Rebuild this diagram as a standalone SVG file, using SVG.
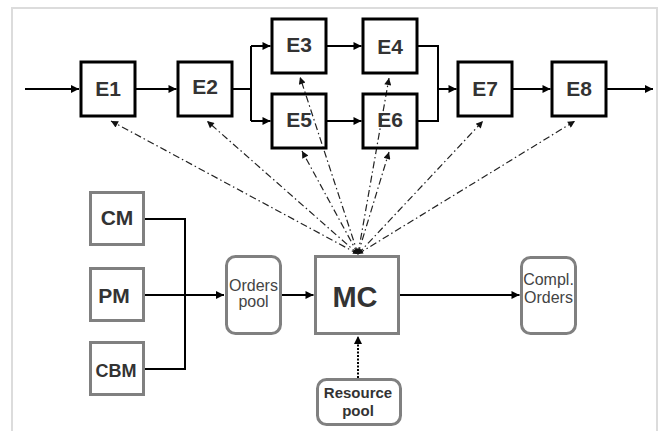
<svg xmlns="http://www.w3.org/2000/svg" width="663" height="431" viewBox="0 0 663 431">
<style>
.frame{fill:#fff;stroke:#dcdcdc;stroke-width:2}
.e{fill:none;stroke:#000;stroke-width:3}
.g{fill:#fff;stroke:#808080;stroke-width:3}
.sl{fill:none;stroke:#000;stroke-width:2}
.dd{fill:none;stroke:#222;stroke-width:1.2;stroke-dasharray:7 3 1.5 3}
.dot{fill:none;stroke:#000;stroke-width:2;stroke-dasharray:2 1.5}
.lt{font-family:"Liberation Sans",Arial,sans-serif;font-weight:bold;fill:#333;text-anchor:middle}
.st{font-family:"Liberation Sans",Arial,sans-serif;fill:#444;text-anchor:middle}
</style>
<defs>
<marker id="a" viewBox="0 0 10 10" refX="10" refY="5" markerWidth="9" markerHeight="8" markerUnits="userSpaceOnUse" orient="auto-start-reverse"><path d="M0,0 L10,5 L0,10 z" fill="#000"/></marker>
<marker id="b" viewBox="0 0 10 10" refX="10" refY="5" markerWidth="9" markerHeight="7" markerUnits="userSpaceOnUse" orient="auto-start-reverse"><path d="M0,0 L10,5 L0,10 z" fill="#111"/></marker>
<marker id="c" viewBox="0 0 10 10" refX="10" refY="5" markerWidth="7" markerHeight="5" markerUnits="userSpaceOnUse" orient="auto-start-reverse"><path d="M0,0 L10,5 L0,10 z" fill="#111"/></marker>
</defs>
<rect class="frame" x="12" y="8" width="645" height="440"/>
<g id="connectors">
<path class="sl" d="M25,89 H79" marker-end="url(#a)"/>
<path class="sl" d="M136,89 H176.5" marker-end="url(#a)"/>
<path class="sl" d="M233,89 H251 M251,46 V121"/>
<path class="sl" d="M251,46 H270.5" marker-end="url(#a)"/>
<path class="sl" d="M251,121 H270.5" marker-end="url(#a)"/>
<path class="sl" d="M325,46 H361.5" marker-end="url(#a)"/>
<path class="sl" d="M325,121 H361.5" marker-end="url(#a)"/>
<path class="sl" d="M418,46 H438 V121 H418"/>
<path class="sl" d="M438,89 H456.5" marker-end="url(#a)"/>
<path class="sl" d="M512,89 H550.5" marker-end="url(#a)"/>
<path class="sl" d="M606,89 H653" marker-end="url(#a)"/>
<path class="sl" d="M145,219 H185 V369 H145 M145,295 H185"/>
<path class="sl" d="M185,295 H224" marker-end="url(#a)"/>
<path class="sl" d="M282,295 H313.5" marker-end="url(#a)"/>
<path class="sl" d="M400,295 H519.5" marker-end="url(#a)"/>
<path class="dot" d="M358,378 V336" marker-end="url(#a)"/>
<path class="dd" d="M358,254 L111,121" marker-start="url(#c)" marker-end="url(#b)"/>
<path class="dd" d="M358,254 L207,121" marker-start="url(#c)" marker-end="url(#b)"/>
<path class="dd" d="M358,254 L300,77" marker-start="url(#c)" marker-end="url(#b)"/>
<path class="dd" d="M358,254 L302,151" marker-start="url(#c)" marker-end="url(#b)"/>
<path class="dd" d="M358,254 L389,78" marker-start="url(#c)" marker-end="url(#b)"/>
<path class="dd" d="M358,254 L389,152" marker-start="url(#c)" marker-end="url(#b)"/>
<path class="dd" d="M358,254 L483,121" marker-start="url(#c)" marker-end="url(#b)"/>
<path class="dd" d="M358,254 L575,121" marker-start="url(#c)" marker-end="url(#b)"/>
</g>
<g id="E1"><rect class="e" x="81" y="62" width="54" height="54"/><text class="lt" x="108" y="96" font-size="21">E1</text></g>
<g id="E2"><rect class="e" x="178" y="62" width="54" height="54"/><text class="lt" x="205" y="94" font-size="21">E2</text></g>
<g id="E3"><rect class="e" x="272" y="19" width="54" height="54"/><text class="lt" x="299" y="52" font-size="21">E3</text></g>
<g id="E5"><rect class="e" x="272" y="94" width="54" height="54"/><text class="lt" x="299" y="127" font-size="21">E5</text></g>
<g id="E4"><rect class="e" x="363" y="19" width="54" height="54"/><text class="lt" x="390" y="54" font-size="21">E4</text></g>
<g id="E6"><rect class="e" x="363" y="94" width="54" height="54"/><text class="lt" x="390" y="127" font-size="21">E6</text></g>
<g id="E7"><rect class="e" x="458" y="62" width="54" height="54"/><text class="lt" x="485" y="96" font-size="21">E7</text></g>
<g id="E8"><rect class="e" x="552" y="62" width="54" height="54"/><text class="lt" x="579" y="96" font-size="21">E8</text></g>
<g id="CM"><rect class="g" x="90.5" y="192.5" width="53" height="52"/><text class="lt" x="117" y="225" font-size="21">CM</text></g>
<g id="PM"><rect class="g" x="90.5" y="268.5" width="53" height="52"/><text class="lt" x="114" y="303" font-size="21">PM</text></g>
<g id="CBM"><rect class="g" x="90.5" y="342.5" width="53" height="52"/><text class="lt" x="116" y="377" font-size="18">CBM</text></g>
<g id="OrdersPool"><rect class="g" x="226.5" y="256.5" width="54" height="77" rx="9"/><text class="st" x="253.5" y="291" font-size="16">Orders</text><text class="st" x="253.5" y="307" font-size="16">pool</text></g>
<g id="MC"><rect class="g" x="315.5" y="256.5" width="83" height="77"/><text class="lt" x="355" y="307" font-size="29">MC</text></g>
<g id="ComplOrders"><rect class="g" x="521.5" y="257.5" width="54" height="76" rx="9"/><text class="st" x="548.5" y="285" font-size="16">Compl.</text><text class="st" x="548.5" y="303" font-size="16">Orders</text></g>
<g id="ResourcePool"><rect class="g" x="317.5" y="379.5" width="83" height="45" rx="9"/><text class="lt" x="358" y="398" font-size="15" fill="#444">Resource</text><text class="lt" x="358" y="416" font-size="15" fill="#444">pool</text></g>
</svg>
